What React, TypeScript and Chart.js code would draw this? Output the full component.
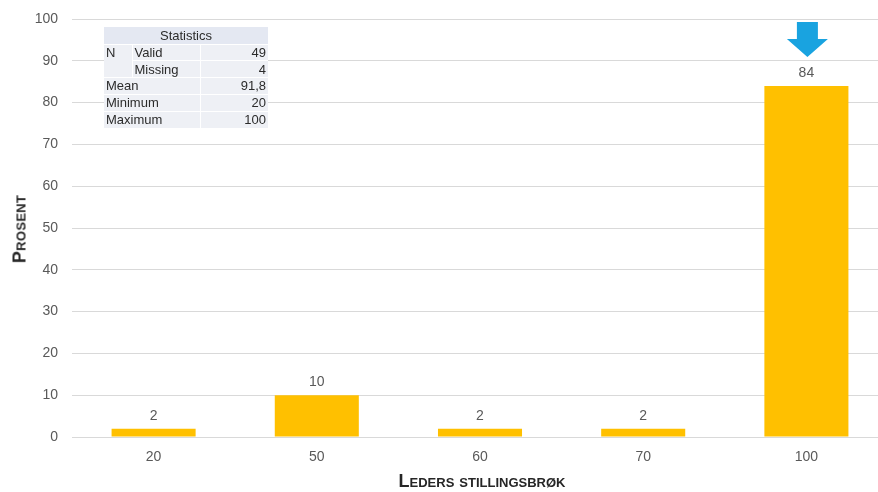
import React, { useEffect, useRef } from "react";
import { Chart, registerables } from "chart.js";

Chart.register(...registerables);

const categories: string[] = ["20", "50", "60", "70", "100"];
const percentValues: number[] = [2, 10, 2, 2, 84];
const yTicksMax = 100;
const yTicksStep = 10;
const statsRows: [string, string, string][] = [
  ["N", "Valid", "49"],
  ["", "Missing", "4"],
  ["Mean", "", "91,8"],
  ["Minimum", "", "20"],
  ["Maximum", "", "100"],
];
const highlightIndex = 4;

const labelPlugin = {
  id: "barLabels",
  afterDatasetsDraw(chart: any) {
    const ctx = chart.ctx;
    const meta = chart.getDatasetMeta(0);
    ctx.save();
    ctx.font = "14px 'Liberation Sans', Arial, sans-serif";
    ctx.fillStyle = "#595959";
    ctx.textAlign = "center";
    ctx.textBaseline = "alphabetic";
    meta.data.forEach((bar: any, i: number) => {
      ctx.fillText(String(percentValues[i]), bar.x, bar.y - 9);
    });
    // arrow over highlighted bar
    const b = meta.data[highlightIndex];
    const top = chart.chartArea.top + 3;
    const cx = b.x + 1;
    ctx.fillStyle = "#19a3e0";
    ctx.beginPath();
    ctx.moveTo(cx - 10.5, top);
    ctx.lineTo(cx + 10.5, top);
    ctx.lineTo(cx + 10.5, top + 17);
    ctx.lineTo(cx + 20.5, top + 17);
    ctx.lineTo(cx, top + 35);
    ctx.lineTo(cx - 20.5, top + 17);
    ctx.lineTo(cx - 10.5, top + 17);
    ctx.closePath();
    ctx.fill();
    ctx.restore();
  },
};

export default function App() {
  const ref = useRef<HTMLCanvasElement>(null);
  useEffect(() => {
    if (!ref.current) return;
    const chart = new Chart(ref.current, {
      type: "bar",
      data: {
        labels: categories,
        datasets: [
          {
            data: percentValues,
            backgroundColor: "#FFC000",
            categoryPercentage: 1,
            barPercentage: 0.515,
          },
        ],
      },
      options: {
        responsive: false,
        animation: false,
        layout: { autoPadding: false, padding: { top: 19, right: 0, left: 0, bottom: 0 } },
        plugins: { legend: { display: false }, tooltip: { enabled: false } },
        scales: {
          x: {
            grid: { display: false, drawTicks: false },
            border: { display: false },
            ticks: {
              color: "#595959",
              font: { size: 14, family: "'Liberation Sans', Arial, sans-serif" },
              padding: 12,
            },
            afterFit: (s: any) => {
              s.height = 55;
              s.paddingLeft = 0;
              s.paddingRight = 0;
            },
          },
          y: {
            min: 0,
            max: yTicksMax,
            ticks: {
              stepSize: yTicksStep,
              color: "#595959",
              font: { size: 14, family: "'Liberation Sans', Arial, sans-serif" },
              padding: 14,
            },
            grid: { color: "#d9d9d9", drawTicks: false },
            border: { display: false },
            afterFit: (s: any) => {
              s.width = 72;
              s.paddingTop = 0;
              s.paddingBottom = 0;
            },
          },
        },
      },
      plugins: [labelPlugin],
    });
    return () => chart.destroy();
  }, []);

  const font = "'Liberation Sans', Arial, sans-serif";
  const cell = { padding: "0 2px", background: "#eef0f5", borderTop: "1px solid #fff" } as const;
  return (
    <div
      style={{
        position: "fixed",
        left: 0,
        top: 0,
        width: 878,
        height: 492,
        overflow: "hidden",
        background: "#fff",
        fontFamily: font,
      }}
    >
      <canvas ref={ref} width={888} height={492} style={{ position: "absolute", left: 0, top: 0 }} />
      <div
        style={{
          position: "absolute",
          left: 20,
          top: 229,
          transform: "translate(-50%, -50%) rotate(-90deg)",
          fontWeight: "bold",
          fontVariant: "small-caps",
          fontSize: 18,
          letterSpacing: 0.3,
          color: "#262626",
          whiteSpace: "nowrap",
        }}
      >
        Prosent
      </div>
      <div
        style={{
          position: "absolute",
          left: 482,
          top: 481,
          transform: "translate(-50%, -50%)",
          fontWeight: "bold",
          fontVariant: "small-caps",
          fontSize: 18,
          letterSpacing: 0,
          color: "#262626",
          whiteSpace: "nowrap",
        }}
      >
        Leders stillingsbrøk
      </div>
      <table
        style={{
          position: "absolute",
          left: 104,
          top: 27,
          width: 164,
          borderCollapse: "collapse",
          tableLayout: "fixed",
          fontSize: 13,
          lineHeight: "15px",
          color: "#2b2b2b",
          fontFamily: font,
        }}
      >
        <colgroup>
          <col style={{ width: 28 }} />
          <col style={{ width: 68 }} />
          <col style={{ width: 68 }} />
        </colgroup>
        <tbody>
          <tr style={{ height: 17 }}>
            <td colSpan={3} style={{ textAlign: "center", background: "#e4e8f2", padding: 0 }}>
              Statistics
            </td>
          </tr>
          {statsRows.map((r, i) => (
            <tr key={i} style={{ height: 16.8 }}>
              {r[1] === "" ? (
                <td colSpan={2} style={{ ...cell, whiteSpace: "nowrap" }}>
                  {r[0]}
                </td>
              ) : (
                <>
                  <td style={{ ...cell, borderTop: i === 0 ? "1px solid #fff" : "none" }}>{r[0]}</td>
                  <td style={{ ...cell, paddingLeft: 2, borderLeft: "1px solid #fff" }}>{r[1]}</td>
                </>
              )}
              <td style={{ ...cell, textAlign: "right", borderLeft: "1px solid #fff" }}>{r[2]}</td>
            </tr>
          ))}
        </tbody>
      </table>
    </div>
  );
}
